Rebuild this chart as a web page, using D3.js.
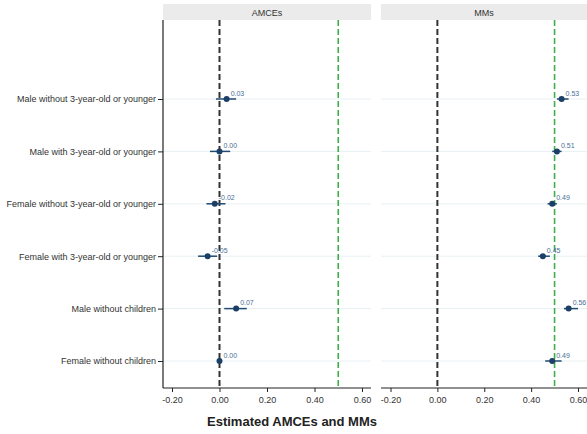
<!DOCTYPE html>
<html>
<head>
<meta charset="utf-8">
<script src="https://cdn.jsdelivr.net/npm/d3@7"></script>
<style>
  body { margin: 0; background: #fff; }
  svg { display: block; font-family: "Liberation Sans", Arial, sans-serif; }
</style>
</head>
<body>
<svg id="chart" width="587" height="434"></svg>
<script>
// Attribute levels, top to bottom
const categories = [
  "Male without 3-year-old or younger",
  "Male with 3-year-old or younger",
  "Female without 3-year-old or younger",
  "Female with 3-year-old or younger",
  "Male without children",
  "Female without children"
];

// Average marginal component effects
const amceEst   = [0.03, 0.00, -0.02, -0.05, 0.07, 0.00];
const amceLower = [-0.015, -0.04, -0.055, -0.09, 0.02, null];
const amceUpper = [0.07, 0.045, 0.025, -0.01, 0.115, null];

// Marginal means
const mmEst   = [0.53, 0.51, 0.49, 0.45, 0.56, 0.49];
const mmLower = [0.51, 0.49, 0.47, 0.43, 0.54, 0.46];
const mmUpper = [0.56, 0.53, 0.51, 0.48, 0.60, 0.53];

const panelTitles = ["AMCEs", "MMs"];
const tickValues = [-0.2, 0, 0.2, 0.4, 0.6];
const refLines = [0, 0.5];

// two decimals with a plain hyphen for negatives
const fmt = v => d3.format(".2f")(v).replace("\u2212", "-");

const svg = d3.select("#chart");
const plotTop = 20, plotBottom = 388;
const panels = [
  { title: panelTitles[0], x0: 163, x1: 371, est: amceEst, lo: amceLower, hi: amceUpper },
  { title: panelTitles[1], x0: 381, x1: 587, est: mmEst, lo: mmLower, hi: mmUpper }
];

const y = d3.scalePoint().domain(categories).range([99, 361]);

panels.forEach((p, pi) => {
  const x = d3.scaleLinear().domain([-0.2, 0.6]).range(pi === 0 ? [172, 362] : [390.5, 578]);
  const g = svg.append("g");

  // strip
  g.append("rect").attr("x", p.x0).attr("y", 4).attr("width", p.x1 - p.x0).attr("height", 16)
    .attr("fill", "#ebebeb");
  g.append("text").attr("x", (p.x0 + p.x1) / 2).attr("y", 15.5).attr("text-anchor", "middle")
    .attr("font-size", 9).attr("fill", "#333").text(p.title);

  // horizontal gridlines
  g.selectAll(".grid").data(categories).join("line")
    .attr("x1", p.x0).attr("x2", p.x1)
    .attr("y1", d => y(d)).attr("y2", d => y(d))
    .attr("stroke", "#e8f0f3").attr("stroke-width", 1);

  // reference lines
  g.append("line").attr("x1", x(refLines[0])).attr("x2", x(refLines[0]))
    .attr("y1", plotTop).attr("y2", plotBottom)
    .attr("stroke", "#333").attr("stroke-width", 2).attr("stroke-dasharray", "6,3");
  g.append("line").attr("x1", x(refLines[1])).attr("x2", x(refLines[1]))
    .attr("y1", plotTop).attr("y2", plotBottom)
    .attr("stroke", "#3cae4a").attr("stroke-width", 1.6).attr("stroke-dasharray", "6,3");

  // confidence intervals, point estimates and value labels
  categories.forEach((c, i) => {
    if (p.lo[i] !== null) {
      g.append("line").attr("x1", x(p.lo[i])).attr("x2", x(p.hi[i]))
        .attr("y1", y(c)).attr("y2", y(c))
        .attr("stroke", "#1f4a72").attr("stroke-width", 1.5);
    }
    g.append("circle").attr("cx", x(p.est[i])).attr("cy", y(c)).attr("r", 3)
      .attr("fill", "#1b3f66");
    g.append("text").attr("x", x(p.est[i]) + 4).attr("y", y(c) - 3.5)
      .attr("font-size", 7).attr("fill", "#4a6f94")
      .text(fmt(p.est[i]));
  });

  // x axis
  const ax = g.append("g").attr("transform", `translate(0,${plotBottom})`)
    .call(d3.axisBottom(x).tickValues(tickValues).tickFormat(fmt).tickSize(4).tickSizeOuter(0));
  ax.select(".domain").remove();
  ax.append("line").attr("x1", p.x0).attr("x2", p.x1).attr("stroke", "#222").attr("stroke-width", 1.2);
  ax.selectAll(".tick line").attr("stroke", "#222");
  ax.selectAll(".tick text").attr("font-size", 9).attr("fill", "#333").attr("dy", "0.9em")
    .attr("font-family", "'Liberation Sans', Arial, sans-serif");

  if (pi === 0) {
    const ay = g.append("g").attr("transform", `translate(${p.x0},0)`)
      .call(d3.axisLeft(y).tickSize(5).tickSizeOuter(0));
    ay.select(".domain").remove();
    ay.append("line").attr("y1", plotTop).attr("y2", plotBottom).attr("stroke", "#222").attr("stroke-width", 1.2);
    ay.selectAll(".tick line").attr("stroke", "#222");
    ay.selectAll(".tick text").attr("font-size", 9).attr("fill", "#333").attr("x", -7)
      .attr("font-family", "'Liberation Sans', Arial, sans-serif");
  }
});

svg.append("text").attr("x", 292).attr("y", 426).attr("text-anchor", "middle")
  .attr("font-size", 13).attr("font-weight", "bold").attr("fill", "#222")
  .text("Estimated AMCEs and MMs");
</script>
</body>
</html>
